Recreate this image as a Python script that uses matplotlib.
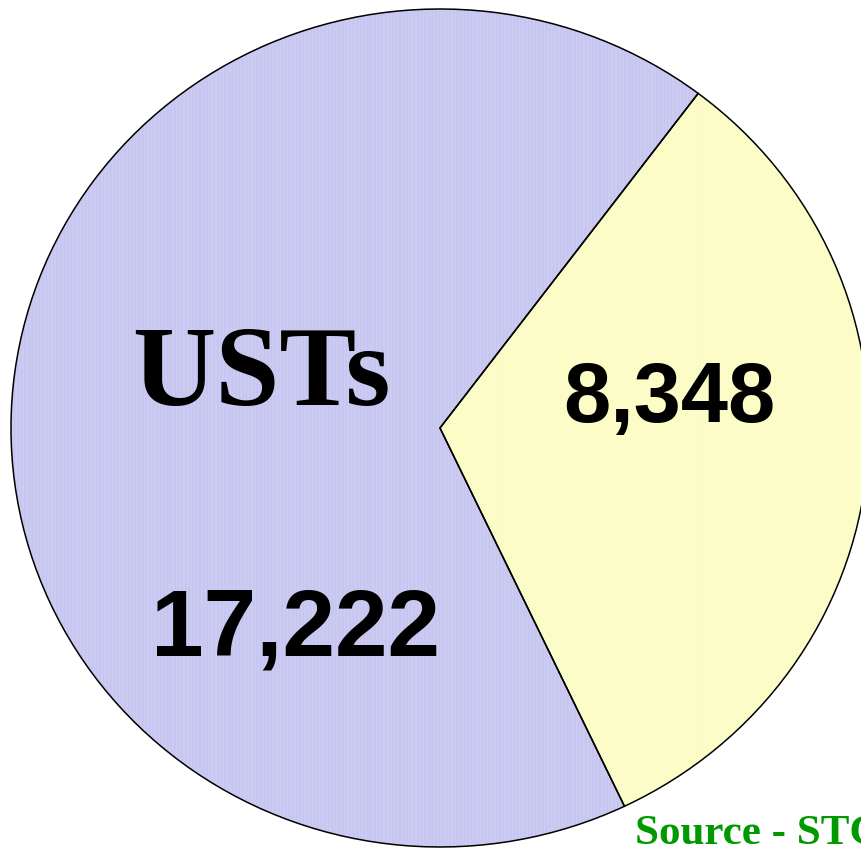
import matplotlib
matplotlib.use("Agg")
import matplotlib.pyplot as plt

# tank counts
labels = ["USTs", "other"]
counts = [17222, 8348]
value_text = ["17,222", "8,348"]

face_cols = ["#D2D2F6", "#FFFFD0"]
stripe_cols = ["#C0C0EE", "#FAFAC0"]

plt.rcParams['hatch.linewidth'] = 0.5

fig = plt.figure(figsize=(8.62, 8.5), dpi=100)
ax = fig.add_axes([0, 0, 1, 1])

# striped fill first, then the black outline on top
wedges, _ = ax.pie(counts, startangle=53, counterclock=True, colors=face_cols,
                   wedgeprops=dict(linewidth=0, hatch='|' * 12))
for w, c in zip(wedges, stripe_cols):
    w.set_edgecolor(c)
ax.pie(counts, startangle=53, counterclock=True,
       wedgeprops=dict(fill=False, edgecolor='black', linewidth=1.1))

ax.set_aspect('auto')
ax.set_xlim(-1.0256, 0.9837)
ax.set_ylim(-1.0072, 1.0215)
ax.axis('off')

ax.text(-0.416, 0.055, labels[0], ha='center', va='baseline',
        family='Liberation Serif', fontweight='bold', fontsize=83)
ax.text(-0.337, -0.544, value_text[0], ha='center', va='baseline',
        family='Liberation Sans', fontweight='bold', fontsize=68)
ax.text(0.535, 0.014, value_text[1], ha='center', va='baseline',
        family='Liberation Sans', fontweight='bold', fontsize=61)

# source note runs off the right edge, as in the original
fig.text(635 / 862, 1 - 844 / 850, "Source - STC", ha='left', va='baseline',
         family='Liberation Serif', fontweight='bold', fontsize=31, color='#009900')

fig.savefig("out.png", dpi=100)
